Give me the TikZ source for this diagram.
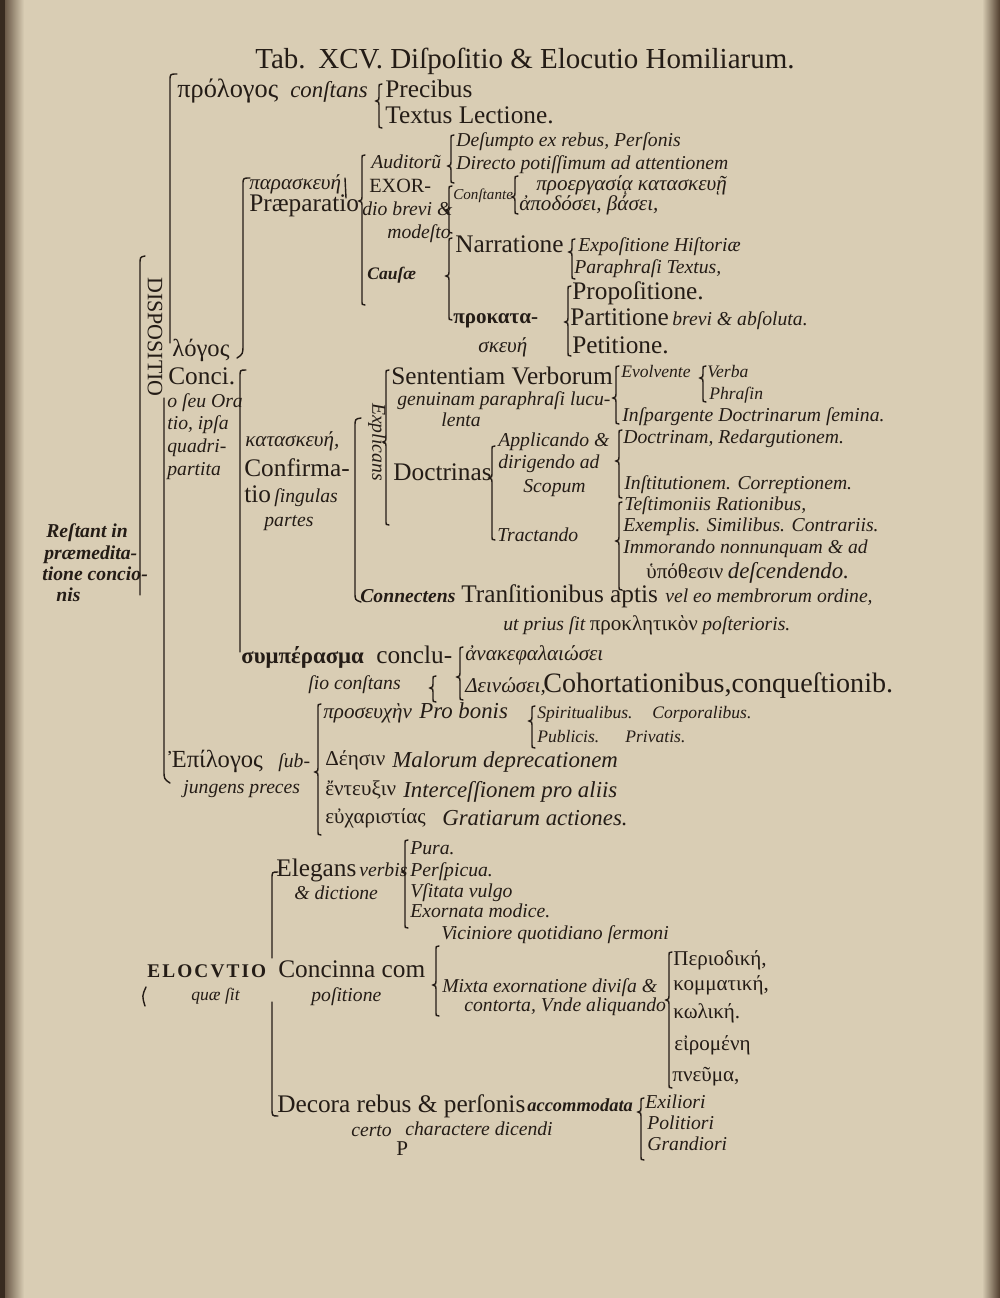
\documentclass[tikz,border=0pt]{standalone}
\usepackage{fontspec}
\setmainfont{Liberation Serif}
\newfontfamily\grf{Liberation Serif}
\definecolor{ink}{RGB}{36,28,22}
\definecolor{paper}{RGB}{217,205,180}
\definecolor{edge}{RGB}{78,60,44}
\newcommand\fRm{\fontsize{14.4}{16}\selectfont\upshape}
\newcommand\fRb{\fontsize{16}{18}\selectfont\upshape}
\newcommand\fIt{\fontsize{11.2}{13}\selectfont\itshape}
\newcommand\fIl{\fontsize{13}{15}\selectfont\itshape}
\newcommand\fIs{\fontsize{10}{12}\selectfont\itshape}
\newcommand\fGr{\fontsize{12}{14}\selectfont\grf\upshape}
\newcommand\fGb{\fontsize{14}{16}\selectfont\grf\upshape}
\newcommand\fBg{\fontsize{16.5}{18}\selectfont\upshape}
\newcommand\fCp{\fontsize{11.5}{13}\selectfont\upshape}
% brace with tip to the left: x, top, tip, bottom
\newcommand\myBrace[4]{\draw[brk] ({#1+3},#2) .. controls (#1,#2) .. (#1,{#2+5}) -- (#1,{#3-4}) .. controls (#1,{#3-1}) .. ({#1-3},#3) .. controls (#1,{#3+1}) .. (#1,{#3+4}) -- (#1,{#4-5}) .. controls (#1,#4) .. ({#1+3},#4);}
\begin{document}
\begin{tikzpicture}[x=0.02cm,y=-0.02cm,
  lbl/.style={anchor=base west, inner sep=0pt, text=ink},
  brk/.style={draw=ink, line width=0.8pt, line cap=round}]
\path[use as bounding box] (0,0) rectangle (1000,1298);
\fill[paper] (0,0) rectangle (1000,1298);
\shade[left color=edge, right color=paper] (0,0) rectangle (24,1298);
\fill[edge!70!black] (0,0) rectangle (5,1298);
\shade[left color=paper, right color=edge] (982,0) rectangle (1000,1298);

% ---------- title
\node[lbl,font=\fBg] (tab) at (255,68) {Tab.};
\node[lbl,font=\fBg] (title) at (318,68) {XCV. Diſpoſitio \& Elocutio Homiliarum.};

% ---------- prologus
\node[lbl,font=\fontsize{15}{17}\selectfont\grf] (prolog) at (177,97) {πρόλογος};
\node[lbl,font=\fIl] (constans) at (290,97) {conſtans};
\node[lbl,font=\fRm] (precibus) at (385,97) {Precibus};
\node[lbl,font=\fRm] (textus) at (385,123) {Textus Lectione.};

% ---------- praeparatio
\node[lbl,font=\fGr\itshape] (paraskeue) at (249,189) {παρασκευή};
\node[lbl,font=\fRm] (praep) at (249,211) {Præparatio};
\node[lbl,font=\fIt] (auditor) at (371,168) {Auditorũ};
\node[lbl,font=\fCp] (exor) at (369,192) {EXOR-};
\node[lbl,font=\fIt] (diobrevi) at (362,215) {dio brevi \&};
\node[lbl,font=\fIt] (modesto) at (387,238) {modeſto};
\node[lbl,font=\fIs\bfseries] (causae) at (367,279) {Cauſæ};
\node[lbl,font=\fIt] (desumpto) at (456,146) {Deſumpto ex rebus, Perſonis};
\node[lbl,font=\fIt] (directo) at (456,169) {Directo potiſſimum ad attentionem};
\node[lbl,font=\fGr\itshape] (proerg) at (536,190) {προεργασίᾳ κατασκευῇ};
\node[lbl,font=\fontsize{8.6}{10}\selectfont\itshape] (constante) at (453,199) {Conſtante};
\node[lbl,font=\fGr\itshape] (apodosei) at (519,210) {ἀποδόσει, βάσει,};
\node[lbl,font=\fRm] (narratione) at (455,252) {Narratione};
\node[lbl,font=\fIt] (exposit) at (578,251) {Expoſitione Hiſtoriæ};
\node[lbl,font=\fIt] (paraphr) at (574,273) {Paraphraſi Textus,};
\node[lbl,font=\fRm] (propos) at (572,299) {Propoſitione.};
\node[lbl,font=\fGr\bfseries] (prokata) at (453,323) {προκατα-};
\node[lbl,font=\fGr\itshape] (skeue) at (478,352) {σκευή};
\node[lbl,font=\fRm] (partit) at (570,325) {Partitione};
\node[lbl,font=\fIt] (brevi) at (672,325) {brevi \& abſoluta.};
\node[lbl,font=\fRm] (petit) at (572,353) {Petitione.};

% ---------- dispositio, concio
\node[font=\fontsize{12.5}{14}\selectfont, rotate=-90, inner sep=0pt, text=ink] (dispos) at (155,337) {DISPOSITIO};
\node[lbl,font=\fGb] (logos) at (172,356) {λόγος};
\node[lbl,font=\fRm] (conci) at (168,384) {Conci.};
\node[lbl,font=\fIt] (oseu) at (167,407) {o ſeu Ora};
\node[lbl,font=\fIt] (tioipsa) at (167,429) {tio, ipſa};
\node[lbl,font=\fIt] (quadri) at (167,452) {quadri-};
\node[lbl,font=\fIt] (partita) at (167,475) {partita};

% ---------- confirmatio
\node[lbl,font=\fGr\itshape] (kataskeue) at (245,446) {κατασκευή,};
\node[lbl,font=\fRm] (confirma) at (244,476) {Confirma-};
\node[lbl,font=\fRm] (tio) at (244,502) {tio};
\node[lbl,font=\fIt] (singulas) at (274,502) {ſingulas};
\node[lbl,font=\fIt] (partes) at (264,526) {partes};
\node[font=\fIt, rotate=-90, inner sep=0pt, text=ink] (explicans) at (377,442) {Explicans};
\node[lbl,font=\fRm] (sententiam) at (391,384) {Sententiam Verborum};
\node[lbl,font=\fIt] (genuinam) at (397,405) {genuinam paraphraſi lucu-};
\node[lbl,font=\fIt] (lenta) at (441,426) {lenta};
\node[lbl,font=\fIs] (evolvente) at (621,377) {Evolvente};
\node[lbl,font=\fIs] (verba) at (707,377) {Verba};
\node[lbl,font=\fIs] (phrasin) at (709,399) {Phraſin};
\node[lbl,font=\fIt] (inspargente) at (622,421) {Inſpargente Doctrinarum ſemina.};
\node[lbl,font=\fRm] (doctrinas) at (393,480) {Doctrinas};
\node[lbl,font=\fIt] (applicando) at (498,446) {Applicando \&};
\node[lbl,font=\fIt] (dirigendo) at (498,468) {dirigendo ad};
\node[lbl,font=\fIt] (scopum) at (523,492) {Scopum};
\node[lbl,font=\fIt] (tractando) at (497,541) {Tractando};
\node[lbl,font=\fIt] (doctrinam) at (623,443) {Doctrinam, Redargutionem.};
\node[lbl,font=\fIt] (institut) at (624,489) {Inſtitutionem. Correptionem.};
\node[lbl,font=\fIt] (testim) at (624,510) {Teſtimoniis Rationibus,};
\node[lbl,font=\fIt] (exemplis) at (623,531) {Exemplis. Similibus. Contrariis.};
\node[lbl,font=\fIt] (immorando) at (623,553) {Immorando nonnunquam \& ad};
\node[lbl] (hypoth) at (646,578) {{\fGr ὑπόθεσιν} {\fIl deſcendendo.}};

% ---------- connectens
\node[lbl,font=\fIt\bfseries] (connectens) at (360,602) {Connectens};
\node[lbl,font=\fRm] (transit) at (461,602) {Tranſitionibus aptis};
\node[lbl,font=\fIt] (veleo) at (665,602) {vel eo membrorum ordine,};
\node[lbl] (utprius) at (503,630) {{\fIt ut prius ſit} {\fGr προκλητικὸν} {\fIt poſterioris.}};

% ---------- conclusio
\node[lbl,font=\fontsize{13}{15}\selectfont\grf\bfseries] (sympe) at (241,663) {συμπέρασμα};
\node[lbl,font=\fRm] (conclu) at (376,663) {conclu-};
\node[lbl,font=\fIt] (sioconst) at (308,689) {ſio conſtans};
\node[lbl,font=\fGr\itshape] (anakeph) at (465,660) {ἀνακεφαλαιώσει};
\node[lbl,font=\fGr\itshape] (deinosei) at (465,692) {Δεινώσει,};
\node[lbl,font=\fRb] (cohort) at (543,692) {Cohortationibus,conqueſtionib.};

% ---------- epilogus
\node[lbl,font=\fGr\itshape] (proseuche) at (323,718) {προσευχὴν};
\node[lbl,font=\fIl] (probonis) at (419,718) {Pro bonis};
\node[lbl,font=\fIs] (spirit) at (537,718) {Spiritualibus.};
\node[lbl,font=\fIs] (corpor) at (652,718) {Corporalibus.};
\node[lbl,font=\fIs] (publicis) at (537,742) {Publicis.};
\node[lbl,font=\fIs] (privatis) at (625,742) {Privatis.};
\node[lbl,font=\fGb] (epilog) at (168,767) {Ἐπίλογος};
\node[lbl,font=\fIt] (sub) at (278,767) {ſub-};
\node[lbl,font=\fIt] (jungens) at (183,793) {jungens preces};
\node[lbl,font=\fGr] (deesin) at (325,765) {Δέησιν};
\node[lbl,font=\fIl] (malorum) at (392,767) {Malorum deprecationem};
\node[lbl,font=\fGr] (enteuxin) at (325,795) {ἔντευξιν};
\node[lbl,font=\fIl] (intercess) at (403,797) {Interceſſionem pro aliis};
\node[lbl,font=\fGr] (eucharist) at (325,823) {εὐχαριστίας};
\node[lbl,font=\fIl] (gratiarum) at (442,825) {Gratiarum actiones.};

% ---------- elocutio
\node[lbl,font=\fIt] (pura) at (410,854) {Pura.};
\node[lbl,font=\fRm] (elegans) at (276,876) {Elegans};
\node[lbl,font=\fIt] (verbis) at (359,876) {verbis};
\node[lbl,font=\fIt] (perspicua) at (410,876) {Perſpicua.};
\node[lbl,font=\fIt] (dictione) at (294,899) {\& dictione};
\node[lbl,font=\fIt] (usitata) at (410,897) {Vſitata vulgo};
\node[lbl,font=\fIt] (exornata) at (410,917) {Exornata modice.};
\node[lbl,font=\fIt] (viciniore) at (441,939) {Viciniore quotidiano ſermoni};
\node[lbl,font=\fontsize{11}{13}\selectfont\bfseries] (elocutio) at (147,977) {E\kern1.2pt L\kern1.2pt O\kern1.2pt C\kern1.2pt V\kern1.2pt T\kern1.2pt I\kern1.2pt O};
\node[lbl,font=\fRm] (concinna) at (278,977) {Concinna com};
\node[lbl,font=\fIs] (quaesit) at (191,1000) {quæ ſit};
\node[lbl,font=\fIt] (positione) at (311,1001) {poſitione};
\node[lbl,font=\fIt] (mixta) at (442,992) {Mixta exornatione diviſa \&};
\node[lbl,font=\fIt] (contorta) at (464,1011) {contorta, Vnde aliquando};
\node[lbl,font=\fGr] (periodike) at (673,965) {Περιοδική,};
\node[lbl,font=\fGr] (kommatike) at (673,990) {κομματική,};
\node[lbl,font=\fGr] (kolike) at (673,1018) {κωλική.};
\node[lbl,font=\fGr] (eiromene) at (674,1050) {εἰρομένη};
\node[lbl,font=\fGr] (pneuma) at (672,1081) {πνεῦμα,};
\node[lbl,font=\fRm] (decora) at (277,1112) {Decora rebus \& perſonis};
\node[lbl,font=\fontsize{10.5}{12}\selectfont\itshape\bfseries] (accomm) at (527,1111) {accommodata};
\node[lbl,font=\fIt] (certo) at (351,1136) {certo};
\node[lbl,font=\fIt] (charact) at (405,1135) {charactere dicendi};
\node[lbl,font=\fontsize{12}{14}\selectfont] (sigP) at (396,1155) {P};
\node[lbl,font=\fIt] (exiliori) at (645,1108) {Exiliori};
\node[lbl,font=\fIt] (politiori) at (647,1129) {Politiori};
\node[lbl,font=\fIt] (grandiori) at (647,1150) {Grandiori};

% ---------- restant
\node[lbl,font=\fIt\bfseries] (restant) at (46,537) {Reſtant in};
\node[lbl,font=\fIt\bfseries] (praemed) at (44,559) {præmedita-};
\node[lbl,font=\fIt\bfseries] (tione) at (42,580) {tione concio-};
\node[lbl,font=\fIt\bfseries] (nis) at (56,601) {nis};

% ---------- brackets
\draw[brk] (145,256) .. controls (140,257) .. (140,265) -- (140,595);
\draw[brk] (146,987) .. controls (142,996) .. (145,1006);
\draw[brk] (177,74) .. controls (170,74) .. (170,81) -- (170,343);
\draw[brk] (164,398) -- (164,770) .. controls (164,779) .. (170,783);
\draw[brk] (250,178) .. controls (243,178) .. (243,185) -- (243,344) .. controls (243,354) .. (237,358);
\draw[brk] (246,370) .. controls (240,370) .. (240,377) -- (240,652);
\draw[brk] (361,418) .. controls (355,419) .. (355,427) -- (355,592) .. controls (355,600) .. (361,602);
\draw[brk] (345,178) -- (346,198);
\myBrace{379}{84}{101}{128}
\myBrace{362}{155}{201}{305}
\myBrace{451}{135}{166}{183}
\myBrace{449}{186}{210}{233}
\myBrace{515}{176}{197}{214}
\myBrace{449}{238}{276}{320}
\myBrace{572}{239}{252}{279}
\myBrace{568}{286}{322}{356}
\myBrace{386}{370}{442}{525}
\myBrace{616}{366}{398}{424}
\myBrace{703}{366}{378}{402}
\myBrace{492}{446}{478}{540}
\myBrace{619}{430}{461}{498}
\myBrace{619}{502}{541}{590}
\myBrace{460}{647}{677}{700}
\myBrace{433}{676}{688}{702}
\myBrace{318}{704}{772}{835}
\myBrace{532}{706}{721}{748}
\myBrace{405}{840}{872}{928}
\draw[brk] (278,872) .. controls (272,872) .. (272,879) -- (272,958);
\draw[brk] (272,1002) -- (272,1108) .. controls (272,1116) .. (278,1116);
\myBrace{436}{946}{985}{1016}
\myBrace{669}{952}{1000}{1088}
\myBrace{641}{1098}{1112}{1160}
\end{tikzpicture}
\end{document}
